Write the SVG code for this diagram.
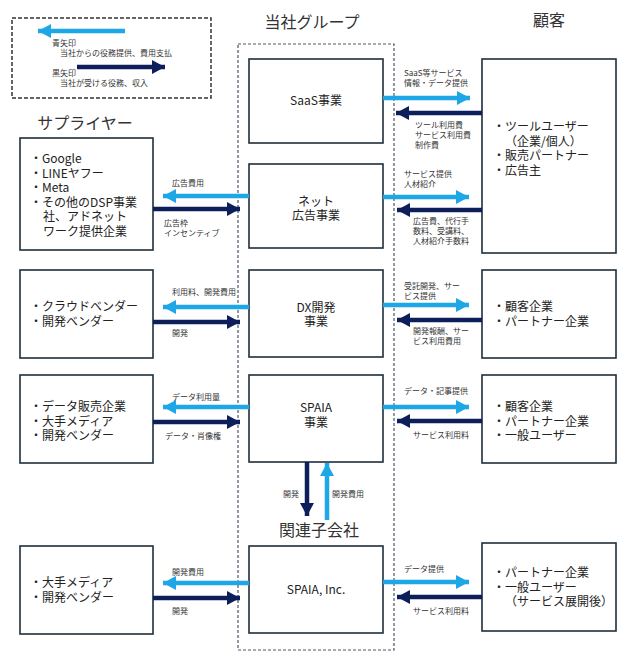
<svg xmlns="http://www.w3.org/2000/svg" width="639" height="663" viewBox="0 0 639 663">
<style>
text{font-family:"Noto Sans CJK JP","Noto Sans",sans-serif;fill:#222}
.h{font-size:16px;fill:#333}
.b{font-size:12px;text-anchor:middle}
.l{font-size:12px}
.s{font-size:8px;fill:#333}
.box{fill:#fff;stroke:#1f2e3a;stroke-width:1.6}
.blue{stroke:#1ea7e6;stroke-width:4.5;fill:none;marker-end:url(#ab)}
.dark{stroke:#0c1f5b;stroke-width:4.5;fill:none;marker-end:url(#ad)}
</style>
<defs>
<marker id="ab" markerUnits="userSpaceOnUse" markerWidth="14" markerHeight="16" refX="13" refY="8" orient="auto"><path d="M0,1 L13,8 L0,15 Z" fill="#1ea7e6"/></marker>
<marker id="ad" markerUnits="userSpaceOnUse" markerWidth="14" markerHeight="16" refX="13" refY="8" orient="auto"><path d="M0,1 L13,8 L0,15 Z" fill="#0c1f5b"/></marker>
</defs>
<rect width="639" height="663" fill="#fff"/>

<g id="legend">
<rect x="12" y="18" width="199" height="80" fill="none" stroke="#333" stroke-width="1.5" stroke-dasharray="4 2"/>
<line class="blue" x1="125" y1="31" x2="38" y2="31"/>
<text class="s" x="52" y="46">青矢印</text>
<text class="s" x="60" y="56">当社からの役務提供、費用支払</text>
<line class="dark" x1="77" y1="67" x2="165" y2="67"/>
<text class="s" x="52" y="76">黒矢印</text>
<text class="s" x="60" y="86">当社が受ける役務、収入</text>
</g>

<g id="headings">
<text class="h" x="312" y="28" text-anchor="middle">当社グループ</text>
<text class="h" x="549" y="26" text-anchor="middle">顧客</text>
<text class="h" x="85" y="129" text-anchor="middle">サプライヤー</text>
<text class="h" x="319" y="536" text-anchor="middle">関連子会社</text>
</g>

<g id="group-border">
<rect x="238" y="44" width="156" height="606" fill="none" stroke="#4a5866" stroke-width="1.2" stroke-dasharray="3 2"/>
</g>

<g id="saas"><rect class="box" x="249" y="59" width="134" height="84"/><text class="b" x="316" y="105">SaaS事業</text></g>
<g id="net"><rect class="box" x="249" y="164" width="134" height="84"/><text class="b" x="316" y="206">ネット</text><text class="b" x="316" y="220">広告事業</text></g>
<g id="dx"><rect class="box" x="249" y="270" width="134" height="87"/><text class="b" x="316" y="312">DX開発</text><text class="b" x="316" y="326">事業</text></g>
<g id="spaia"><rect class="box" x="249" y="375" width="134" height="87"/><text class="b" x="316" y="412">SPAIA</text><text class="b" x="316" y="427">事業</text></g>
<g id="spaia-inc"><rect class="box" x="249" y="546" width="134" height="87"/><text class="b" x="316" y="594">SPAIA, Inc.</text></g>

<g id="supplier1"><rect class="box" x="20" y="138" width="133" height="112"/>
<text class="l" x="30" y="163">・Google</text>
<text class="l" x="30" y="177.5">・LINEヤフー</text>
<text class="l" x="30" y="192">・Meta</text>
<text class="l" x="30" y="206.5">・その他のDSP事業</text>
<text class="l" x="43" y="221">社、アドネット</text>
<text class="l" x="43" y="235.5">ワーク提供企業</text></g>
<g id="supplier2"><rect class="box" x="20" y="270" width="133" height="88"/>
<text class="l" x="30" y="311">・クラウドベンダー</text>
<text class="l" x="30" y="326">・開発ベンダー</text></g>
<g id="supplier3"><rect class="box" x="20" y="375" width="133" height="88"/>
<text class="l" x="30" y="411">・データ販売企業</text>
<text class="l" x="30" y="425.5">・大手メディア</text>
<text class="l" x="30" y="440">・開発ベンダー</text></g>
<g id="supplier4"><rect class="box" x="20" y="546" width="133" height="88"/>
<text class="l" x="30" y="587">・大手メディア</text>
<text class="l" x="30" y="601.5">・開発ベンダー</text></g>

<g id="customer1"><rect class="box" x="482" y="59" width="134" height="194"/>
<text class="l" x="493" y="131">・ツールユーザー</text>
<text class="l" x="505" y="145.5">（企業/個人）</text>
<text class="l" x="493" y="160">・販売パートナー</text>
<text class="l" x="493" y="175">・広告主</text></g>
<g id="customer2"><rect class="box" x="482" y="270" width="134" height="88"/>
<text class="l" x="493" y="311">・顧客企業</text>
<text class="l" x="493" y="326">・パートナー企業</text></g>
<g id="customer3"><rect class="box" x="482" y="375" width="134" height="88"/>
<text class="l" x="493" y="411">・顧客企業</text>
<text class="l" x="493" y="425.5">・パートナー企業</text>
<text class="l" x="493" y="440">・一般ユーザー</text></g>
<g id="customer4"><rect class="box" x="482" y="543" width="134" height="88"/>
<text class="l" x="493" y="577">・パートナー企業</text>
<text class="l" x="493" y="591.5">・一般ユーザー</text>
<text class="l" x="505" y="606">（サービス展開後）</text></g>

<g id="connectors">
<line class="blue" x1="383" y1="98" x2="470" y2="98"/>
<line class="dark" x1="482" y1="113" x2="396" y2="113"/>
<line class="blue" x1="383" y1="197" x2="469" y2="197"/>
<line class="dark" x1="482" y1="210" x2="397" y2="210"/>
<line class="blue" x1="249" y1="196" x2="163" y2="196"/>
<line class="dark" x1="153" y1="209" x2="240" y2="209"/>
<line class="blue" x1="249" y1="307" x2="163" y2="307"/>
<line class="dark" x1="153" y1="322" x2="240" y2="322"/>
<line class="blue" x1="383" y1="305" x2="469" y2="305"/>
<line class="dark" x1="482" y1="320" x2="397" y2="320"/>
<line class="blue" x1="249" y1="407" x2="163" y2="407"/>
<line class="dark" x1="153" y1="422" x2="240" y2="422"/>
<line class="blue" x1="383" y1="407" x2="469" y2="407"/>
<line class="dark" x1="482" y1="421" x2="397" y2="421"/>
<line class="dark" x1="307" y1="462" x2="307" y2="516"/>
<line class="blue" x1="327" y1="520" x2="327" y2="463"/>
<line class="blue" x1="249" y1="583" x2="163" y2="583"/>
<line class="dark" x1="153" y1="598" x2="240" y2="598"/>
<line class="blue" x1="383" y1="582" x2="469" y2="582"/>
<line class="dark" x1="482" y1="597" x2="397" y2="597"/>
</g>

<g id="labels">
<text class="s" x="404" y="76">SaaS等サービス</text>
<text class="s" x="404" y="86">情報・データ提供</text>
<text class="s" x="415" y="128">ツール利用費</text>
<text class="s" x="415" y="138">サービス利用費</text>
<text class="s" x="415" y="148">制作費</text>
<text class="s" x="404" y="177">サービス提供</text>
<text class="s" x="404" y="187">人材紹介</text>
<text class="s" x="413" y="224">広告費、代行手</text>
<text class="s" x="413" y="234">数料、受講料、</text>
<text class="s" x="413" y="244">人材紹介手数料</text>
<text class="s" x="172" y="186">広告費用</text>
<text class="s" x="164" y="226">広告枠</text>
<text class="s" x="164" y="236">インセンティブ</text>
<text class="s" x="172" y="295">利用料、開発費用</text>
<text class="s" x="172" y="336">開発</text>
<text class="s" x="404" y="289">受託開発、サー</text>
<text class="s" x="404" y="299">ビス提供</text>
<text class="s" x="413" y="334">開発報酬、サー</text>
<text class="s" x="413" y="344">ビス利用費用</text>
<text class="s" x="172" y="400">データ利用量</text>
<text class="s" x="165" y="439">データ・肖像権</text>
<text class="s" x="404" y="394">データ・記事提供</text>
<text class="s" x="413" y="438">サービス利用料</text>
<text class="s" x="283" y="497">開発</text>
<text class="s" x="332" y="497">開発費用</text>
<text class="s" x="172" y="575">開発費用</text>
<text class="s" x="172" y="614">開発</text>
<text class="s" x="404" y="572">データ提供</text>
<text class="s" x="413" y="614">サービス利用料</text>
</g>
</svg>
